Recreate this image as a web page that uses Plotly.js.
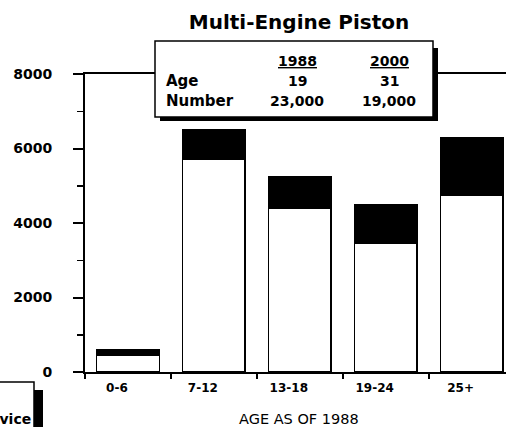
<!DOCTYPE html>
<html>
<head>
<meta charset="utf-8">
<script src="https://cdn.plot.ly/plotly-3.0.1.min.js"></script>
<style>
html,body{margin:0;padding:0;background:#fff;overflow:hidden;}
#chart{width:506px;height:427px;}
</style>
</head>
<body>
<div id="chart"></div>
<script>
// ---- data ----
const categories = ['0-6', '7-12', '13-18', '19-24', '25+'];
const total1988 = [600, 6500, 5250, 4500, 6300];       // full bar height
const remaining2000 = [450, 5700, 4400, 3450, 4750];   // white part
const yTickVals = [0, 2000, 4000, 6000, 8000];
const yTickText = ['0', '2000', '4000', '6000', '8000'];
const tableYears = ['1988', '2000'];
const tableAge = ['19', '31'];
const tableNumber = ['23,000', '19,000'];
const chartTitle = 'Multi-Engine Piston';
const xTitle = 'AGE AS OF 1988';
const topFragment = '1988 - 2000';
const legendFragment = 'Service';

const retired = total1988.map((t, i) => t - remaining2000[i]);

// ---- geometry helpers (pixel -> paper) ----
const W = 506, H = 427, L = 85, R = 0, T = 74, B = 55;
const PW = W - L - R, PH = H - T - B;
const px = X => (X - L) / PW;
const py = Y => (H - B - Y) / PH;

const boldFont = (size) => ({family: 'DejaVu Sans', size: size, color: '#000', weight: 700});

const traces = [
  {
    type: 'bar', x: categories, y: remaining2000, name: 'In Service',
    marker: {color: '#ffffff', line: {color: '#000', width: 1.5}},
    showlegend: false, hoverinfo: 'none'
  },
  {
    type: 'bar', x: categories, y: retired, name: 'Retired',
    marker: {color: '#000000', line: {color: '#000', width: 1.5}},
    showlegend: false, hoverinfo: 'none'
  }
];

const colX = [297, 389];
const rowY = {years: 61, age: 81, number: 101};
const annotations = [];
tableYears.forEach((t, i) => annotations.push({
  text: '<u>' + t + '</u>', x: px(colX[i]), y: py(rowY.years), xref: 'paper', yref: 'paper',
  xanchor: 'center', yanchor: 'middle', showarrow: false, font: boldFont(14)
}));
annotations.push({text: 'Age', x: px(164), y: py(rowY.age), xref: 'paper', yref: 'paper',
  xanchor: 'left', yanchor: 'middle', showarrow: false, font: boldFont(15)});
annotations.push({text: 'Number', x: px(164), y: py(rowY.number), xref: 'paper', yref: 'paper',
  xanchor: 'left', yanchor: 'middle', showarrow: false, font: boldFont(15)});
tableAge.forEach((t, i) => annotations.push({
  text: t, x: px(colX[i]), y: py(rowY.age), xref: 'paper', yref: 'paper',
  xanchor: 'center', yanchor: 'middle', showarrow: false, font: boldFont(14)
}));
tableNumber.forEach((t, i) => annotations.push({
  text: t, x: px(colX[i]), y: py(rowY.number), xref: 'paper', yref: 'paper',
  xanchor: 'center', yanchor: 'middle', showarrow: false, font: boldFont(14)
}));
// x axis title
annotations.push({text: xTitle, x: px(299), y: py(419), xref: 'paper', yref: 'paper',
  xanchor: 'center', yanchor: 'middle', showarrow: false,
  font: {family: 'DejaVu Sans', size: 14.5, color: '#000'}});
// cut-off fragments at page edges
annotations.push({text: topFragment, x: px(2), y: py(6), xref: 'paper', yref: 'paper',
  xanchor: 'left', yanchor: 'bottom', showarrow: false, font: boldFont(20)});
annotations.push({text: legendFragment, x: px(33), y: py(429), xref: 'paper', yref: 'paper',
  xanchor: 'right', yanchor: 'bottom', showarrow: false, font: boldFont(14)});

const shapes = [
  {type: 'rect', xref: 'paper', yref: 'paper', x0: px(160), x1: px(438), y0: py(48), y1: py(121),
   fillcolor: '#000', line: {width: 0}, layer: 'above'},
  {type: 'rect', xref: 'paper', yref: 'paper', x0: px(155), x1: px(433), y0: py(41), y1: py(117),
   fillcolor: '#fff', line: {color: '#000', width: 1.5}, layer: 'above'},
  {type: 'rect', xref: 'paper', yref: 'paper', x0: px(34), x1: px(43), y0: py(390), y1: py(445),
   fillcolor: '#000', line: {width: 0}, layer: 'above'},
  {type: 'rect', xref: 'paper', yref: 'paper', x0: px(-20), x1: px(34), y0: py(382), y1: py(445),
   fillcolor: '#fff', line: {color: '#000', width: 1.5}, layer: 'above'}
];

const layout = {
  width: W, height: H,
  margin: {l: L, r: R, t: T, b: B, pad: 0},
  paper_bgcolor: '#fff', plot_bgcolor: '#fff',
  barmode: 'stack', bargap: 0.27,
  title: {
    text: chartTitle, font: boldFont(20),
    xref: 'container', yref: 'container', x: 299 / W, y: 1 - 22 / H,
    xanchor: 'center', yanchor: 'middle'
  },
  xaxis: {
    type: 'category', range: [-0.5, 4.4],
    showline: true, linecolor: '#000', linewidth: 2, mirror: true,
    ticks: 'outside', tickson: 'boundaries', ticklen: 5, tickwidth: 2, tickcolor: '#000',
    tickfont: boldFont(12), ticklabelshift: -11, ticklabelstandoff: 4,
    showgrid: false, zeroline: false, automargin: false, fixedrange: true
  },
  yaxis: {
    range: [0, 8000], tickvals: yTickVals, ticktext: yTickText, tickmode: 'array',
    showline: true, linecolor: '#000', linewidth: 2,
    ticks: 'outside', ticklen: 10, tickwidth: 2, tickcolor: '#000',
    minor: {tickmode: 'linear', tick0: 0, dtick: 1000, ticks: 'outside', ticklen: 6, tickwidth: 1.5, tickcolor: '#000', showgrid: false},
    tickfont: boldFont(14), ticklabelstandoff: 18,
    showgrid: false, zeroline: false, automargin: false, fixedrange: true
  },
  annotations: annotations,
  shapes: shapes,
  showlegend: false
};

Plotly.newPlot('chart', traces, layout, {staticPlot: true, displayModeBar: false});
</script>
</body>
</html>
